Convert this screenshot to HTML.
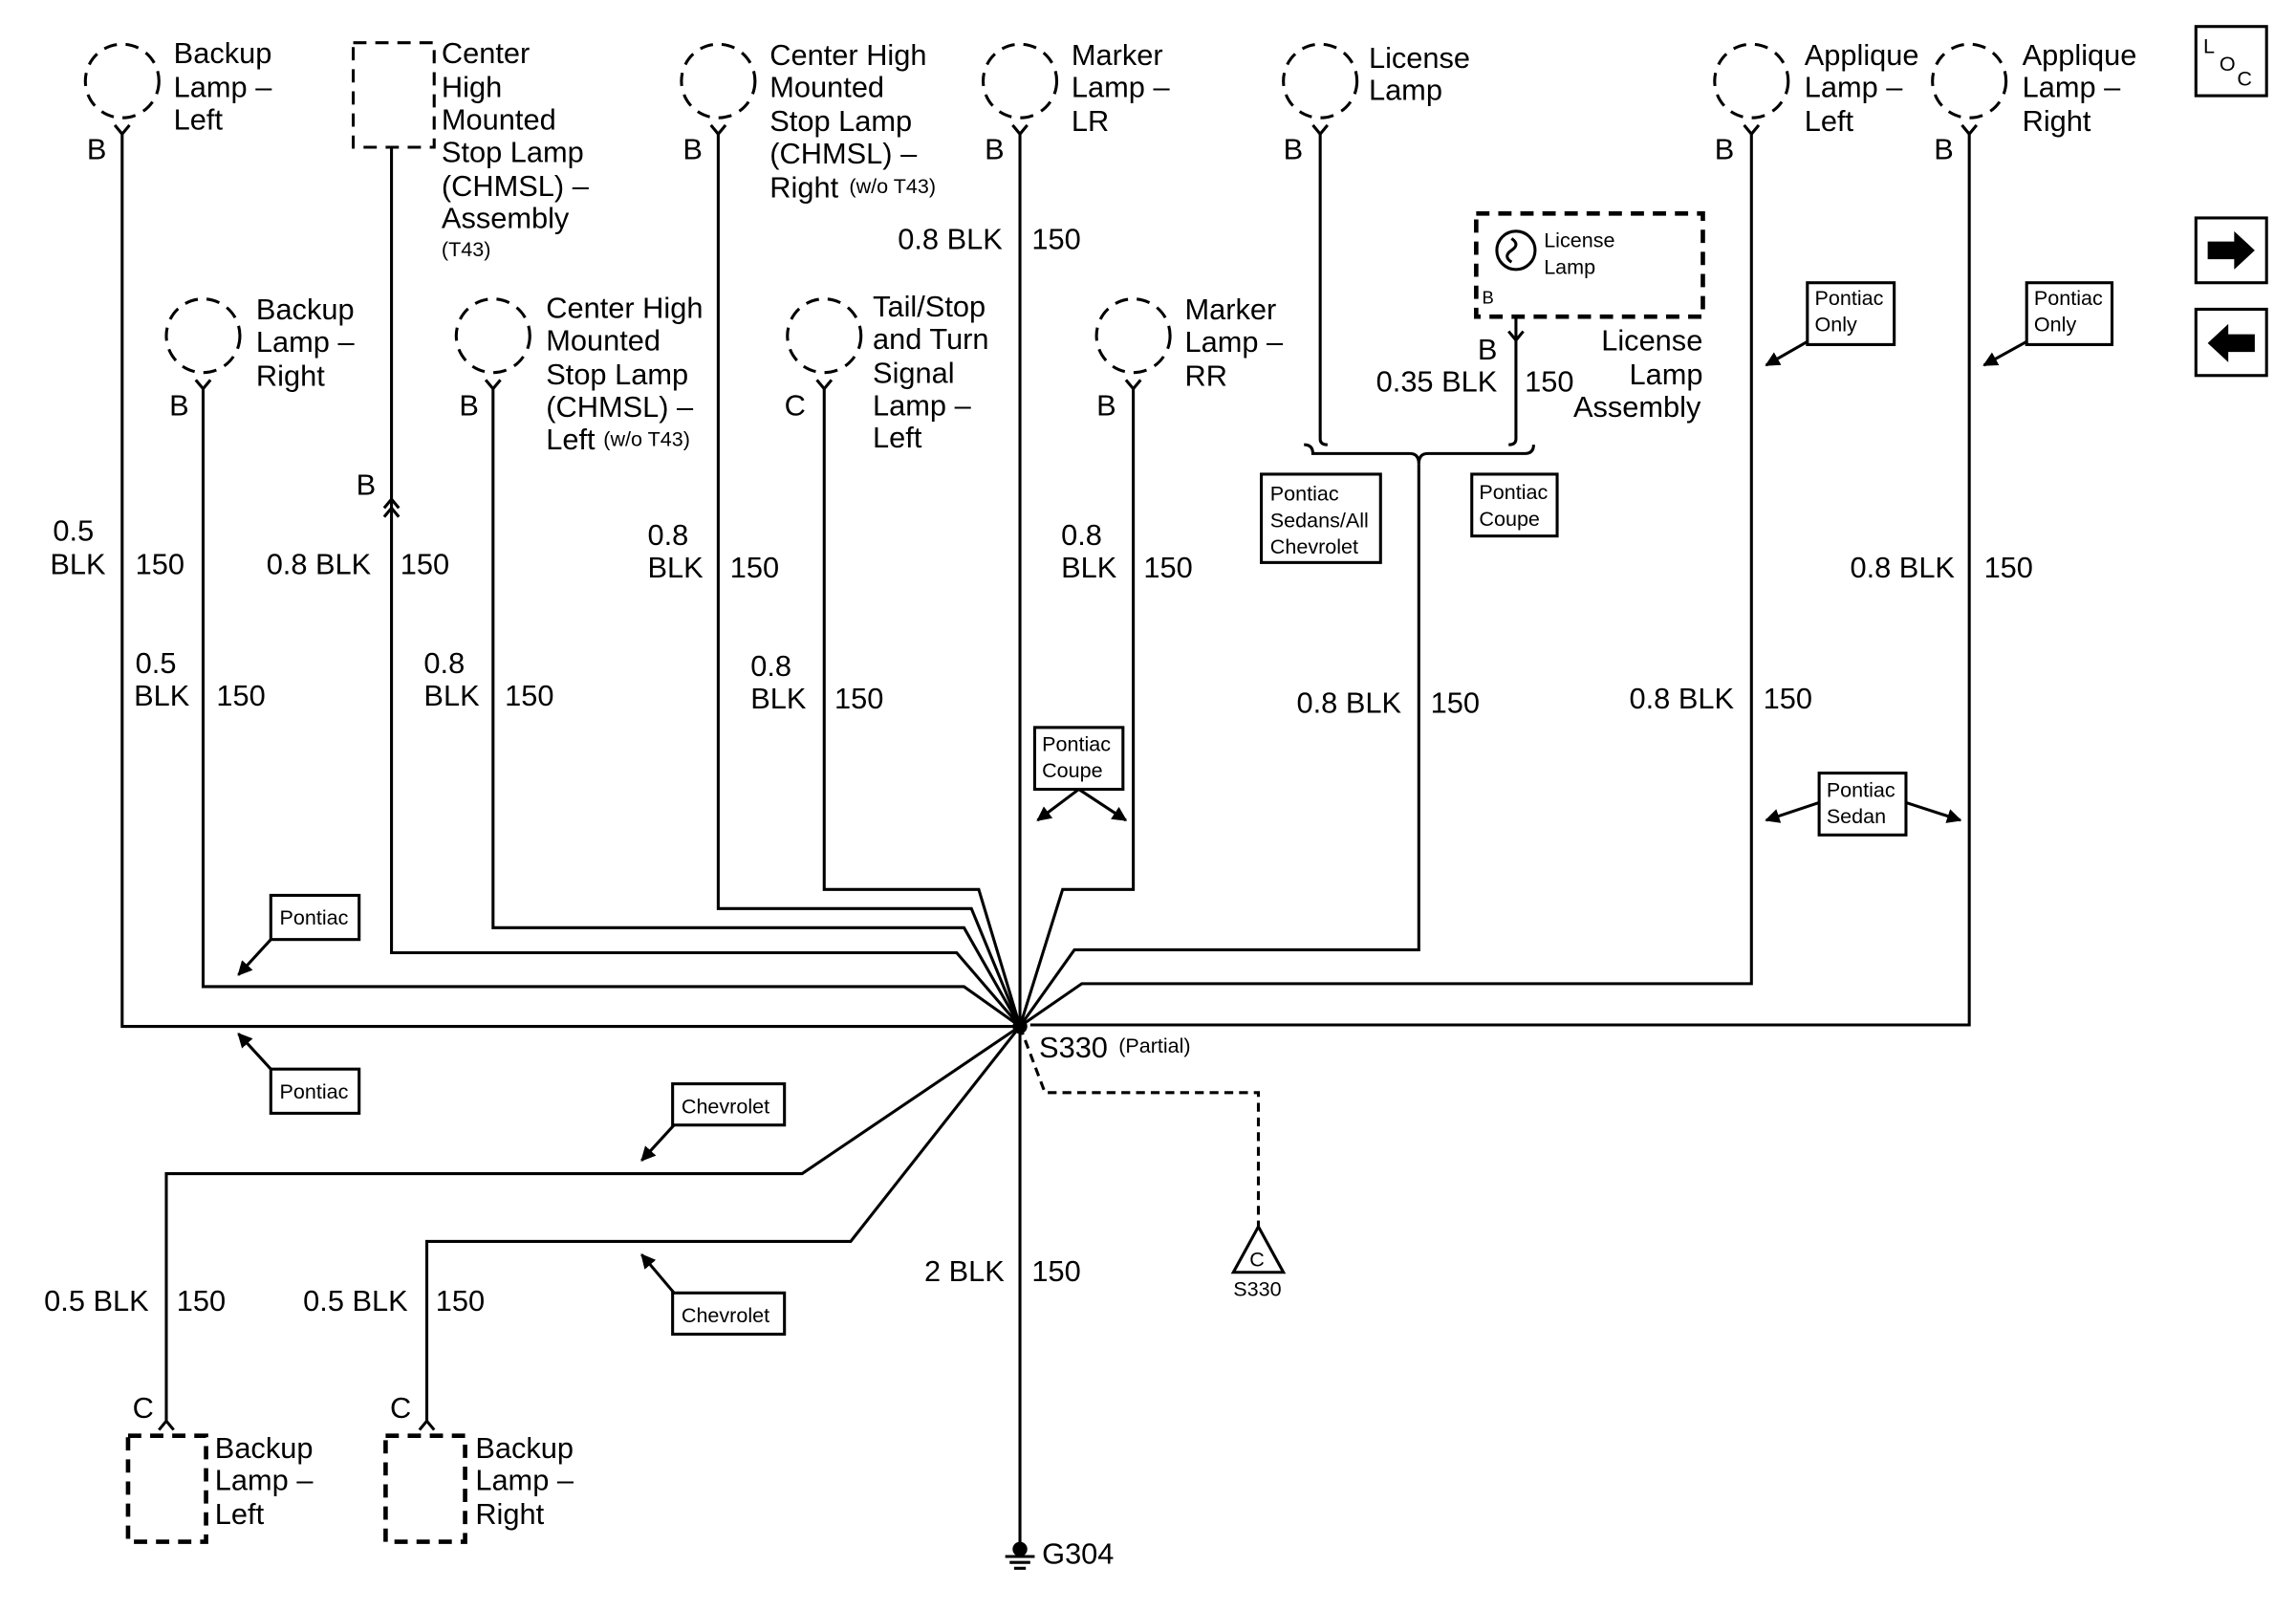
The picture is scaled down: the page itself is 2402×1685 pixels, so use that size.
<!DOCTYPE html>
<html><head><meta charset="utf-8"><style>
html,body{margin:0;padding:0;background:#fff;}
svg{display:block;}
text{font-family:"Liberation Sans",Arial,sans-serif;fill:#000;}
.t{font-size:20px;}
.s{font-size:14px;}
.xs{font-size:12px;}
</style></head><body>
<svg width="2402" height="1685" viewBox="0 0 1560 1094" preserveAspectRatio="none" xmlns="http://www.w3.org/2000/svg">
<defs>
<marker id="ah" markerWidth="10" markerHeight="10" refX="9" refY="5" orient="auto" markerUnits="userSpaceOnUse"><path d="M0,0 L10,5 L0,10 z" fill="#000"/></marker>
</defs>
<g fill="none" stroke="#000" stroke-width="2">
<!-- dashed circles -->
<g stroke-dasharray="9,6">
<circle cx="83" cy="55" r="25"/>
<circle cx="138" cy="228" r="25"/>
<circle cx="335" cy="228" r="25"/>
<circle cx="488" cy="55" r="25"/>
<circle cx="560" cy="228" r="25"/>
<circle cx="693" cy="55" r="25"/>
<circle cx="770" cy="228" r="25"/>
<circle cx="897" cy="55" r="25"/>
<circle cx="1190" cy="55" r="25"/>
<circle cx="1338" cy="55" r="25"/>
<rect x="240" y="29" width="55" height="71"/>
<rect x="1003" y="145" width="154" height="70" stroke-width="3"/>
<rect x="87" y="975" width="53" height="72" stroke-width="3"/>
<rect x="262" y="975" width="54" height="72" stroke-width="3"/>
</g>
<!-- pin Y shapes -->
<g>
<path d="M78,85 L83,91 L88,85"/><path d="M133,258 L138,264 L143,258"/>
<path d="M330,258 L335,264 L340,258"/><path d="M483,85 L488,91 L493,85"/>
<path d="M555,258 L560,264 L565,258"/><path d="M688,85 L693,91 L698,85"/>
<path d="M765,258 L770,264 L775,258"/><path d="M892,85 L897,91 L902,85"/>
<path d="M1185,85 L1190,91 L1195,85"/><path d="M1333,85 L1338,91 L1343,85"/>
<path d="M1025,225 L1030,231 L1035,225"/>
<path d="M261,345 L266,339 L271,345"/><path d="M261,351 L266,345 L271,351"/>
<path d="M108,971 L113,965 L118,971"/><path d="M285,971 L290,965 L295,971"/>
</g>
<!-- wires -->
<path d="M83,91 V697 H693"/>
<path d="M138,264 V670 H655 L693,697"/>
<path d="M266,100 V647 H650 L693,697"/>
<path d="M335,264 V630 H655 L693,697"/>
<path d="M488,91 V617 H660 L693,697"/>
<path d="M560,264 V604 H665 L693,697"/>
<path d="M693,91 V1048"/>
<path d="M770,264 V604 H722 L693,697"/>
<path d="M897,91 V298 Q897,302 902,302"/>
<path d="M1030,215 V298 Q1030,302 1025,302"/>
<path d="M886,302 Q892,302 892,308 H958 Q964,308 964,315 Q964,308 970,308 H1036 Q1042,308 1042,302"/>
<path d="M964,315 V645 H730 L693,697"/>
<path d="M1190,91 V668 H735 L693,697"/>
<path d="M1338,91 V696 H700"/>
<path d="M693,697 L545,797 H113 V965"/>
<path d="M693,697 L578,843 H290 V965"/>
<path d="M693,697 L710,742 H855 V833" stroke-dasharray="6,4"/>
<path d="M855,833 L838,864 H872 Z"/>
<!-- license lamp bulb -->
<circle cx="1030" cy="170" r="13"/>
<path d="M1027,162 q6,4 0,8 q-6,4 0,8"/>
<!-- ground -->
<path d="M683,1057 H703 M686,1061 H700 M689,1065 H697"/>
<!-- label boxes -->
<rect x="184" y="608" width="60" height="30"/>
<rect x="184" y="726" width="60" height="30"/>
<rect x="457" y="736" width="76" height="28"/>
<rect x="457" y="878" width="76" height="28"/>
<rect x="703" y="494" width="60" height="42"/>
<rect x="857" y="322" width="81" height="60"/>
<rect x="1000" y="322" width="58" height="42"/>
<rect x="1228" y="192" width="59" height="42"/>
<rect x="1377" y="192" width="58" height="42"/>
<rect x="1236" y="525" width="59" height="42"/>
<rect x="1492" y="18" width="48" height="47"/>
<rect x="1492" y="148" width="48" height="44"/>
<rect x="1492" y="210" width="48" height="45"/>
</g>
<!-- arrows -->
<g stroke="#000" stroke-width="2" marker-end="url(#ah)">
<line x1="184" y1="638" x2="162" y2="662"/>
<line x1="184" y1="726" x2="162" y2="702"/>
<line x1="458" y1="764" x2="436" y2="788"/>
<line x1="458" y1="878" x2="436" y2="852"/>
<line x1="733" y1="536" x2="705" y2="557"/>
<line x1="733" y1="536" x2="765" y2="557"/>
<line x1="1228" y1="232" x2="1200" y2="248"/>
<line x1="1377" y1="232" x2="1348" y2="248"/>
<line x1="1236" y1="545" x2="1200" y2="557"/>
<line x1="1295" y1="545" x2="1332" y2="557"/>
</g>
<circle cx="693" cy="697" r="5" fill="#000"/>
<circle cx="693" cy="1052" r="5" fill="#000"/>
<path d="M1500,164 H1518 V157 L1532,170 L1518,183 V176 H1500 Z" fill="#000"/>
<path d="M1532,227 H1514 V220 L1500,233 L1514,246 V239 H1532 Z" fill="#000"/>
<!-- text -->
<g class="t">
<text x="118" y="43">Backup</text><text x="118" y="66">Lamp –</text><text x="118" y="88">Left</text><text x="59" y="108">B</text>
<text x="300" y="43">Center</text><text x="300" y="66">High</text><text x="300" y="88">Mounted</text><text x="300" y="110">Stop Lamp</text><text x="300" y="133">(CHMSL) –</text><text x="300" y="155">Assembly</text>
<text x="523" y="44">Center High</text><text x="523" y="66">Mounted</text><text x="523" y="89">Stop Lamp</text><text x="523" y="111">(CHMSL) –</text><text x="523" y="134">Right</text><text x="464" y="108">B</text>
<text x="728" y="44">Marker</text><text x="728" y="66">Lamp –</text><text x="728" y="89">LR</text><text x="669" y="108">B</text>
<text x="930" y="46">License</text><text x="930" y="68">Lamp</text><text x="872" y="108">B</text>
<text x="1226" y="44">Applique</text><text x="1226" y="66">Lamp –</text><text x="1226" y="89">Left</text><text x="1165" y="108">B</text>
<text x="1374" y="44">Applique</text><text x="1374" y="66">Lamp –</text><text x="1374" y="89">Right</text><text x="1314" y="108">B</text>
<text x="174" y="217">Backup</text><text x="174" y="239">Lamp –</text><text x="174" y="262">Right</text><text x="115" y="282">B</text>
<text x="371" y="216">Center High</text><text x="371" y="238">Mounted</text><text x="371" y="261">Stop Lamp</text><text x="371" y="283">(CHMSL) –</text><text x="371" y="305">Left</text><text x="312" y="282">B</text>
<text x="593" y="215">Tail/Stop</text><text x="593" y="237">and Turn</text><text x="593" y="260">Signal</text><text x="593" y="282">Lamp –</text><text x="593" y="304">Left</text><text x="533" y="282">C</text>
<text x="805" y="217">Marker</text><text x="805" y="239">Lamp –</text><text x="805" y="262">RR</text><text x="745" y="282">B</text>
<text x="242" y="336">B</text>
<text x="610" y="169">0.8 BLK</text><text x="701" y="169">150</text>
<text x="1088" y="238">License</text><text x="1107" y="261">Lamp</text><text x="1069" y="283">Assembly</text>
<text x="1004" y="244">B</text><text x="935" y="266">0.35 BLK</text><text x="1036" y="266">150</text>
<text x="36" y="367">0.5</text><text x="34" y="390">BLK</text><text x="92" y="390">150</text>
<text x="181" y="390">0.8 BLK</text><text x="272" y="390">150</text>
<text x="440" y="370">0.8</text><text x="440" y="392">BLK</text><text x="496" y="392">150</text>
<text x="721" y="370">0.8</text><text x="721" y="392">BLK</text><text x="777" y="392">150</text>
<text x="1257" y="392">0.8 BLK</text><text x="1348" y="392">150</text>
<text x="92" y="457">0.5</text><text x="91" y="479">BLK</text><text x="147" y="479">150</text>
<text x="288" y="457">0.8</text><text x="288" y="479">BLK</text><text x="343" y="479">150</text>
<text x="510" y="459">0.8</text><text x="510" y="481">BLK</text><text x="567" y="481">150</text>
<text x="881" y="484">0.8 BLK</text><text x="972" y="484">150</text>
<text x="1107" y="481">0.8 BLK</text><text x="1198" y="481">150</text>
<text x="706" y="718">S330</text>
<text x="628" y="870">2 BLK</text><text x="701" y="870">150</text>
<text x="30" y="890">0.5 BLK</text><text x="120" y="890">150</text>
<text x="206" y="890">0.5 BLK</text><text x="296" y="890">150</text>
<text x="90" y="963">C</text><text x="265" y="963">C</text>
<text x="146" y="990">Backup</text><text x="146" y="1012">Lamp –</text><text x="146" y="1035">Left</text>
<text x="323" y="990">Backup</text><text x="323" y="1012">Lamp –</text><text x="323" y="1035">Right</text>
<text x="708" y="1062">G304</text>
</g>
<g class="s">
<text x="410" y="303">(w/o T43)</text><text x="577" y="131">(w/o T43)</text><text x="300" y="174">(T43)</text>
<text x="760" y="715">(Partial)</text>
<text x="190" y="628">Pontiac</text><text x="190" y="746">Pontiac</text>
<text x="463" y="756">Chevrolet</text><text x="463" y="898">Chevrolet</text>
<text x="708" y="510">Pontiac</text><text x="708" y="528">Coupe</text>
<text x="863" y="340">Pontiac</text><text x="863" y="358">Sedans/All</text><text x="863" y="376">Chevrolet</text>
<text x="1005" y="339">Pontiac</text><text x="1005" y="357">Coupe</text>
<text x="1233" y="207">Pontiac</text><text x="1233" y="225">Only</text>
<text x="1382" y="207">Pontiac</text><text x="1382" y="225">Only</text>
<text x="1241" y="541">Pontiac</text><text x="1241" y="559">Sedan</text>
<text x="1049" y="168">License</text><text x="1049" y="186">Lamp</text>
<text x="838" y="880">S330</text><text x="849" y="860">C</text>
<text x="1007" y="206" class="xs">B</text>
</g>
<text x="1497" y="36" style="font-size:14px">L</text><text x="1508" y="48" style="font-size:14px">O</text><text x="1520" y="58" style="font-size:14px">C</text>
</svg>
</body></html>
